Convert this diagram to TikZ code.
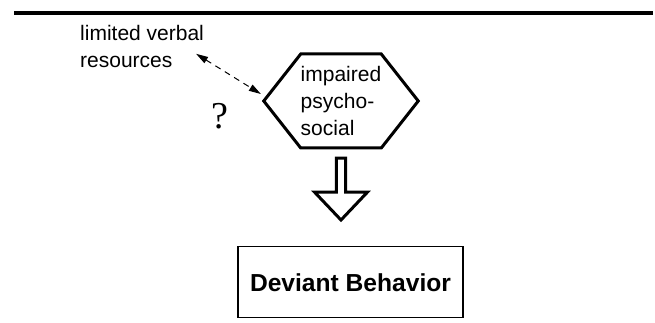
\documentclass[tikz,border=0pt]{standalone}
\usepackage{fontspec}
\setmainfont{Liberation Sans}
\newfontfamily\qfont{Liberation Serif}
\usetikzlibrary{shapes.symbols}
\usetikzlibrary{shapes.arrows}
\usetikzlibrary{arrows.meta}
\usetikzlibrary{positioning}
\tikzstyle{every label text} = [font=\fontsize{21}{27}\selectfont]
\tikzstyle{factor} = [signal, signal to=west and east, signal pointer angle=103.6, draw, black, line width=3pt, minimum width=152pt, minimum height=94pt, inner sep=0pt, align=left, every label text]
\tikzstyle{remark} = [inner sep=0pt, align=left, every label text]
\tikzstyle{outcome} = [rectangle, draw, black, line width=1.3pt, minimum width=225pt, minimum height=71pt, font=\fontsize{24.6}{28}\selectfont\bfseries]
\tikzstyle{flow} = [single arrow, shape border rotate=270, draw, black, line width=3pt, minimum height=62pt, minimum width=53pt, single arrow head extend=7pt, single arrow tip angle=87, inner sep=0pt]
\tikzstyle{maybe} = [>={Triangle[length=12pt,width=7pt]}, <->, line width=1pt, dash pattern=on 6pt off 5pt]

\begin{document}
\begin{tikzpicture}[x=1pt, y=-1pt]
  \useasboundingbox (0,0) rectangle (655,323);
  \draw[line width=4pt] (14,13) -- (653,13);
  \node[factor] (psy) at (341,101) {impaired\\psycho-\\social};
  \node[remark, anchor=north west] (verbal) at (80,25) {limited verbal\\resources};
  \node[inner sep=0pt, font=\qfont\fontsize{38}{40}\selectfont] (q) [left=33pt of psy, yshift=-15pt] {?};
  \node[flow] (arrow) [below=7pt of psy] {};
  \node[outcome] (dev) [below=24pt of arrow, xshift=9.5pt] {Deviant Behavior};
  \draw[maybe] ([xshift=-8pt,yshift=14pt]verbal.south east) -- ([xshift=-1pt,yshift=7pt]psy.west);
\end{tikzpicture}
\end{document}
